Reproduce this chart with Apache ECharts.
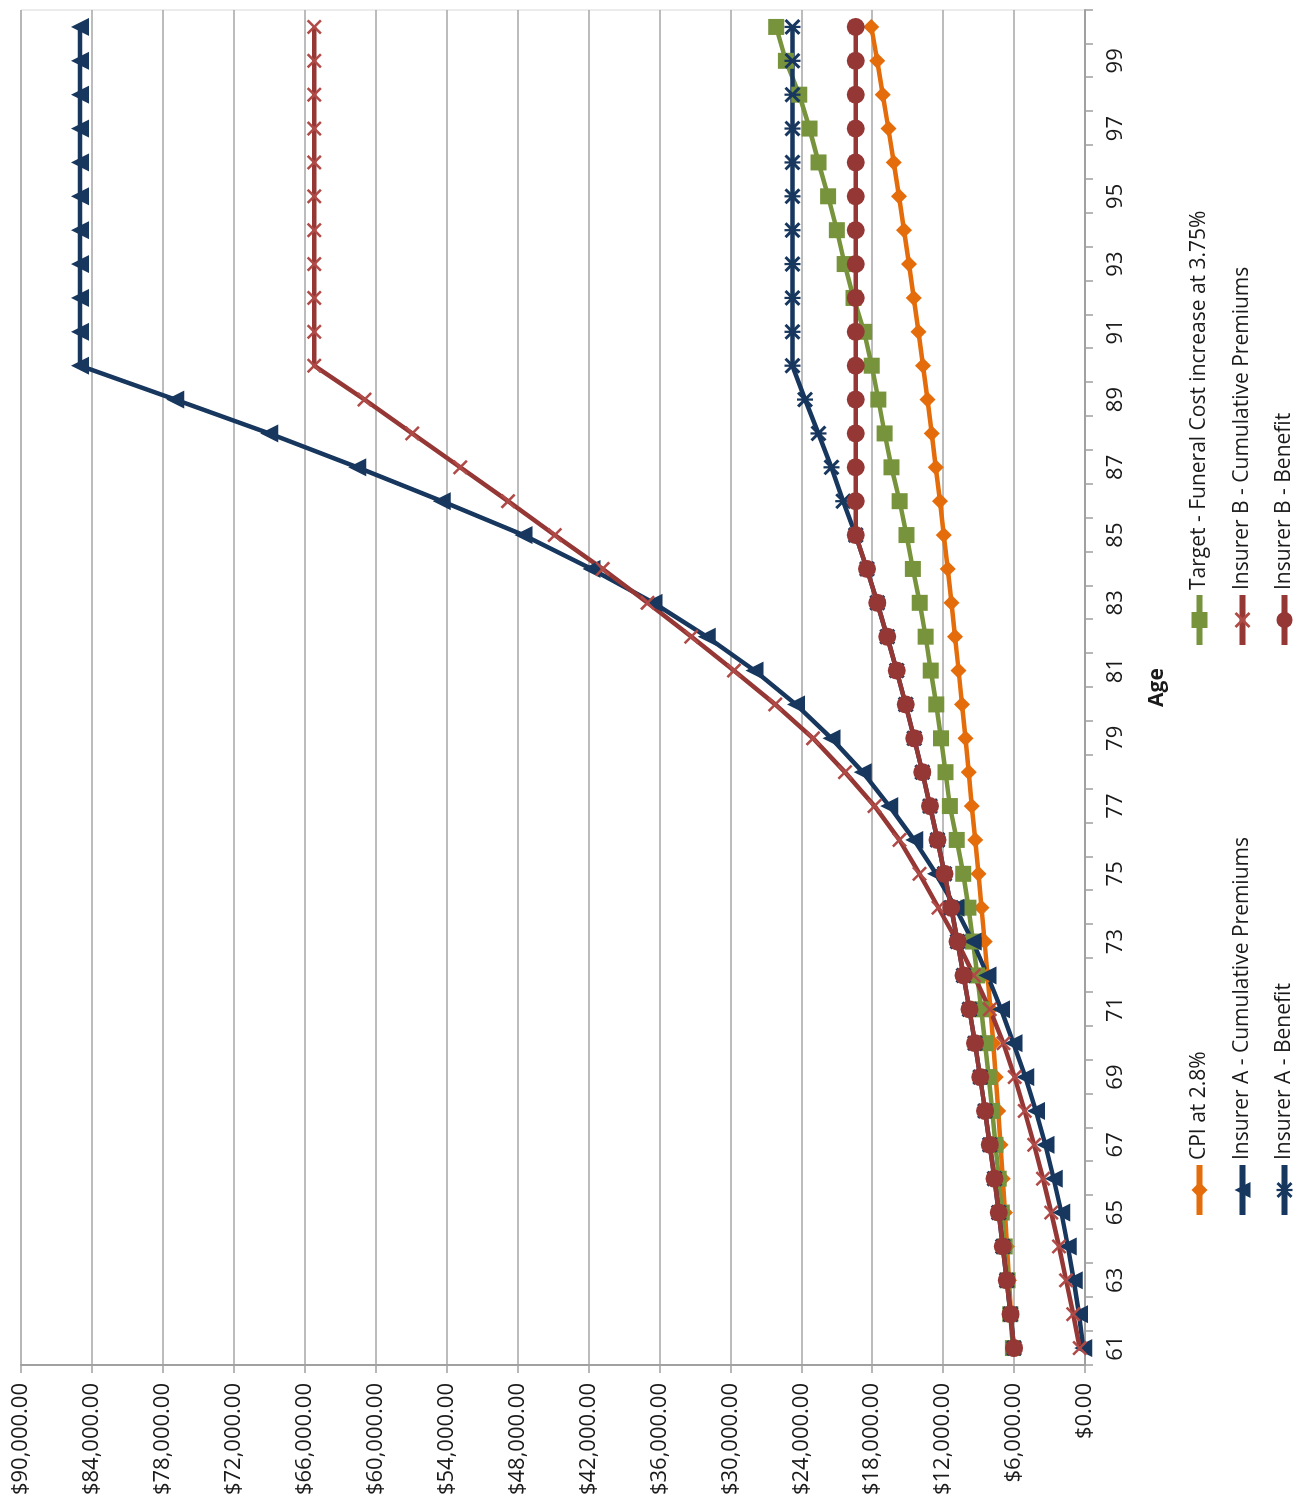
<!DOCTYPE html>
<html>
<head>
<meta charset="utf-8">
<title>Funeral cost vs insurer premiums and benefits</title>
<script src="https://cdn.jsdelivr.net/npm/echarts@6/dist/echarts.min.js"></script>
<style>
  html, body { margin: 0; padding: 0; background: #ffffff; overflow: hidden; }
  body { width: 1306px; height: 1507px; position: relative; }
  /* The chart is laid out landscape and turned a quarter turn counter-clockwise */
  #chart {
    position: absolute; left: 0; top: 0;
    width: 1507px; height: 1306px;
    transform-origin: 0 0;
    transform: translate(0px, 1507px) rotate(-90deg);
  }
</style>
</head>
<body>
<div id="chart"></div>
<script>
// Ages on the category axis
const ages = ['61','62','63','64','65','66','67','68','69','70',
              '71','72','73','74','75','76','77','78','79','80',
              '81','82','83','84','85','86','87','88','89','90',
              '91','92','93','94','95','96','97','98','99','100'];

// Value axis range and step (dollars)
const valueMin = 0;
const valueMax = 90000;
const valueStep = 6000;

// Series values, one per age 61..100
const cpi = [6100, 6260, 6420, 6590, 6770, 6950, 7140, 7340, 7550, 7770,
             8000, 8240, 8490, 8750, 9010, 9280, 9570, 9840, 10110, 10400,
             10690, 10990, 11290, 11610, 11940, 12270, 12620, 12970, 13330, 13710,
             14090, 14490, 14890, 15310, 15740, 16180, 16630, 17100, 17580, 18070];

const target = [6100, 6320, 6550, 6790, 7040, 7300, 7570, 7850, 8140, 8450,
                8780, 9120, 9480, 9860, 10300, 10850, 11430, 11800, 12180, 12580,
                13050, 13480, 13980, 14560, 15100, 15680, 16370, 16950, 17480, 18040,
                18680, 19580, 20330, 20990, 21730, 22540, 23300, 24170, 25300, 26120];

const insurerACumulative = [150, 500, 950, 1450, 2000, 2650, 3350, 4150, 5050, 6050,
                            7100, 8250, 9500, 10950, 12600, 14450, 16550, 18800, 21450, 24450,
                            27950, 32000, 36500, 41750, 47500, 54400, 61550, 69000, 76950, 85000,
                            85000, 85000, 85000, 85000, 85000, 85000, 85000, 85000, 85000, 85000];

const insurerBCumulative = [450, 1000, 1600, 2200, 2850, 3550, 4300, 5100, 5950, 6900,
                            8050, 9400, 10800, 12400, 14000, 15700, 17800, 20300, 23000, 26200,
                            29700, 33300, 37000, 40800, 44850, 48800, 52850, 56900, 60950, 65200,
                            65200, 65200, 65200, 65200, 65200, 65200, 65200, 65200, 65200, 65200];

const insurerABenefit = [6000, 6300, 6620, 6950, 7300, 7660, 8050, 8450, 8870, 9310,
                         9780, 10270, 10780, 11320, 11890, 12480, 13110, 13760, 14450, 15170,
                         15930, 16730, 17570, 18450, 19400, 20450, 21450, 22550, 23680, 24750,
                         24750, 24750, 24750, 24750, 24750, 24750, 24750, 24750, 24750, 24750];

const insurerBBenefit = [6000, 6300, 6620, 6950, 7300, 7660, 8050, 8450, 8870, 9310,
                         9780, 10270, 10780, 11320, 11890, 12480, 13110, 13760, 14450, 15170,
                         15930, 16730, 17570, 18450, 19400, 19400, 19400, 19400, 19400, 19400,
                         19400, 19400, 19400, 19400, 19400, 19400, 19400, 19400, 19400, 19400];

// Series names as shown in the legend
const names = {
  cpi: 'CPI at 2.8%',
  target: 'Target - Funeral Cost increase at 3.75%',
  aCum: 'Insurer A - Cumulative Premiums',
  bCum: 'Insurer B - Cumulative Premiums',
  aBen: 'Insurer A - Benefit',
  bBen: 'Insurer B - Benefit'
};

// Marker shapes drawn as thin filled outlines
const crossMark = 'path://M0,1.2 L1.2,0 L10,8.8 L8.8,10 Z M8.8,0 L10,1.2 L1.2,10 L0,8.8 Z';
const starMark = 'path://M0,1.3 L1.3,0 L10,8.7 L8.7,10 Z M8.7,0 L10,1.3 L1.3,10 L0,8.7 Z M4.3,0 L5.7,0 L5.7,10 L4.3,10 Z';

const FONT = '"Open Sans", "Noto Sans", sans-serif';
const TEXT = '#1a1a1a';
const navy = '#17375E';
const red = '#953735';

function lineSeries(name, data, color, symbol, size, extra) {
  return Object.assign({
    name: name,
    type: 'line',
    data: data,
    symbol: symbol,
    symbolSize: size,
    showAllSymbol: true,
    lineStyle: { color: color, width: 4.5 },
    itemStyle: { color: color, borderWidth: 0 },
    emphasis: { disabled: true }
  }, extra || {});
}

// One legend block per entry, laid out as two columns of three rows
function legendEntry(name, left, top) {
  return {
    data: [name],
    left: left,
    top: top,
    padding: 0,
    itemWidth: 50,
    itemHeight: 20,
    selectedMode: false,
    lineStyle: { width: 6 },
    textStyle: { fontFamily: FONT, fontSize: 21, lineHeight: 21, color: TEXT }
  };
}

const legendCols = [289, 859];
const legendRows = [1189, 1232, 1274];

const chart = echarts.init(document.getElementById('chart'), null, { renderer: 'canvas' });

chart.setOption({
  animation: false,
  backgroundColor: '#ffffff',
  grid: {
    left: 142, right: 10, top: 21, bottom: 221,
    show: true, borderColor: '#d9d9d9', borderWidth: 1
  },
  legend: [
    legendEntry(names.cpi, legendCols[0], legendRows[0]),
    legendEntry(names.aCum, legendCols[0], legendRows[1]),
    legendEntry(names.aBen, legendCols[0], legendRows[2]),
    legendEntry(names.target, legendCols[1], legendRows[0]),
    legendEntry(names.bCum, legendCols[1], legendRows[1]),
    legendEntry(names.bBen, legendCols[1], legendRows[2])
  ],
  xAxis: {
    type: 'category',
    data: ages,
    boundaryGap: true,
    name: 'Age',
    nameLocation: 'middle',
    nameGap: 62,
    nameTextStyle: { fontFamily: FONT, fontSize: 21, fontWeight: 'bold', color: TEXT },
    axisLine: { lineStyle: { color: '#a0a0a0', width: 2 } },
    axisTick: { show: true, interval: 0, length: 8, alignWithLabel: false, lineStyle: { color: '#a0a0a0', width: 1.5 } },
    axisLabel: { interval: 1, margin: 20, fontFamily: FONT, fontSize: 22, color: TEXT },
    splitLine: { show: false }
  },
  yAxis: {
    type: 'value',
    min: valueMin,
    max: valueMax,
    interval: valueStep,
    axisLine: { show: true, lineStyle: { color: '#a0a0a0', width: 2 } },
    axisTick: { show: true, length: 8, lineStyle: { color: '#a0a0a0', width: 1.5 } },
    axisLabel: {
      margin: 18,
      fontFamily: FONT, fontSize: 22, color: TEXT,
      formatter: v => '$' + v.toLocaleString('en-US', { minimumFractionDigits: 2, maximumFractionDigits: 2 })
    },
    splitLine: { show: true, lineStyle: { color: '#a6a6a6', width: 1.5 } }
  },
  series: [
    lineSeries(names.cpi, cpi, '#E46C0A', 'diamond', 16),
    lineSeries(names.target, target, '#77933C', 'rect', 16),
    lineSeries(names.aCum, insurerACumulative, navy, 'triangle', 18),
    lineSeries(names.bCum, insurerBCumulative, red, crossMark, 15, {
      itemStyle: { color: '#b04a47', borderWidth: 0 }
    }),
    lineSeries(names.aBen, insurerABenefit, navy, starMark, 16),
    lineSeries(names.bBen, insurerBBenefit, red, 'circle', 18)
  ]
});
</script>
</body>
</html>
